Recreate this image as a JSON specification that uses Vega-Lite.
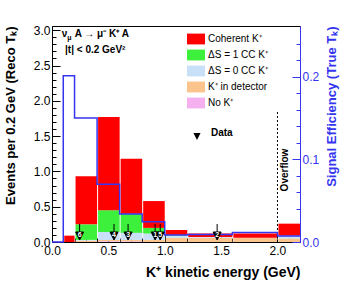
{
  "$schema": "https://vega.github.io/schema/vega-lite/v6.json",
  "width": 248,
  "height": 216,
  "autosize": "none",
  "padding": {"left": 52, "top": 26, "right": 53, "bottom": 43},
  "config": {
    "font": "Liberation Sans",
    "view": {"stroke": "black", "strokeWidth": 1},
    "axis": {"grid": false, "labelFont": "Liberation Sans", "titleFont": "Liberation Sans", "labelOverlap": false, "labelFlush": false, "labelBound": false, "domainWidth": 1}
  },
  "layer": [
    {
      "layer": [
        {
          "data": {"values": [
            {"lo": 0.1, "hi": 0.2, "c": "Coherent K⁺", "k": 5, "v": 0.09},
            {"lo": 0.2, "hi": 0.4, "c": "K⁺ in detector", "k": 2, "v": 0.02},
            {"lo": 0.2, "hi": 0.4, "c": "ΔS = 0 CC K⁺", "k": 3, "v": 0.01},
            {"lo": 0.2, "hi": 0.4, "c": "ΔS = 1 CC K⁺", "k": 4, "v": 0.22},
            {"lo": 0.2, "hi": 0.4, "c": "Coherent K⁺", "k": 5, "v": 0.68},
            {"lo": 0.4, "hi": 0.6, "c": "No K⁺", "k": 1, "v": 0.01},
            {"lo": 0.4, "hi": 0.6, "c": "K⁺ in detector", "k": 2, "v": 0.02},
            {"lo": 0.4, "hi": 0.6, "c": "ΔS = 0 CC K⁺", "k": 3, "v": 0.11},
            {"lo": 0.4, "hi": 0.6, "c": "ΔS = 1 CC K⁺", "k": 4, "v": 0.31},
            {"lo": 0.4, "hi": 0.6, "c": "Coherent K⁺", "k": 5, "v": 1.32},
            {"lo": 0.6, "hi": 0.8, "c": "No K⁺", "k": 1, "v": 0.01},
            {"lo": 0.6, "hi": 0.8, "c": "K⁺ in detector", "k": 2, "v": 0.02},
            {"lo": 0.6, "hi": 0.8, "c": "ΔS = 0 CC K⁺", "k": 3, "v": 0.10},
            {"lo": 0.6, "hi": 0.8, "c": "ΔS = 1 CC K⁺", "k": 4, "v": 0.27},
            {"lo": 0.6, "hi": 0.8, "c": "Coherent K⁺", "k": 5, "v": 0.78},
            {"lo": 0.8, "hi": 1.0, "c": "K⁺ in detector", "k": 2, "v": 0.03},
            {"lo": 0.8, "hi": 1.0, "c": "ΔS = 0 CC K⁺", "k": 3, "v": 0.09},
            {"lo": 0.8, "hi": 1.0, "c": "ΔS = 1 CC K⁺", "k": 4, "v": 0.08},
            {"lo": 0.8, "hi": 1.0, "c": "Coherent K⁺", "k": 5, "v": 0.38},
            {"lo": 1.0, "hi": 1.2, "c": "K⁺ in detector", "k": 2, "v": 0.06},
            {"lo": 1.0, "hi": 1.2, "c": "ΔS = 0 CC K⁺", "k": 3, "v": 0.03},
            {"lo": 1.0, "hi": 1.2, "c": "ΔS = 1 CC K⁺", "k": 4, "v": 0.01},
            {"lo": 1.0, "hi": 1.2, "c": "Coherent K⁺", "k": 5, "v": 0.07},
            {"lo": 1.2, "hi": 1.6, "c": "K⁺ in detector", "k": 2, "v": 0.06},
            {"lo": 1.2, "hi": 1.6, "c": "ΔS = 0 CC K⁺", "k": 3, "v": 0.01},
            {"lo": 1.2, "hi": 1.6, "c": "Coherent K⁺", "k": 5, "v": 0.05},
            {"lo": 1.6, "hi": 2.0, "c": "K⁺ in detector", "k": 2, "v": 0.055},
            {"lo": 1.6, "hi": 2.0, "c": "ΔS = 0 CC K⁺", "k": 3, "v": 0.005},
            {"lo": 1.6, "hi": 2.0, "c": "Coherent K⁺", "k": 5, "v": 0.06},
            {"lo": 2.0, "hi": 2.2, "c": "K⁺ in detector", "k": 2, "v": 0.05},
            {"lo": 2.0, "hi": 2.2, "c": "ΔS = 0 CC K⁺", "k": 3, "v": 0.04},
            {"lo": 2.0, "hi": 2.2, "c": "Coherent K⁺", "k": 5, "v": 0.17}
          ]},
          "mark": {"type": "bar", "strokeWidth": 0},
          "encoding": {
            "x": {"field": "lo", "type": "quantitative", "bin": "binned",
              "scale": {"domain": [0, 2.2], "nice": false, "zero": false},
              "axis": {
                "values": [0, 0.5, 1.0, 1.5, 2.0], "format": ".1f",
                "tickSize": -8, "labelOverlap": false, "labelBound": false, "labelFlush": false,
                "tickColor": "black", "domainColor": "black", "labelColor": "black",
                "labelFontSize": 12, "labelPadding": 11,
                "title": "K⁺ kinetic energy (GeV)", "titleAnchor": "end", "titleFontSize": 14, "titleFontWeight": "bold", "titleColor": "black", "titlePadding": 9
              }
            },
            "x2": {"field": "hi"},
            "y": {"field": "v", "type": "quantitative", "stack": "zero",
              "scale": {"domain": [0, 3.06], "nice": false},
              "axis": {
                "values": [0, 1.0, 2.0, 3.0], "format": ".1f",
                "tickSize": -8, "labelOverlap": false, "labelBound": false, "labelFlush": false,
                "tickColor": "black", "domainColor": "black", "labelColor": "black",
                "labelFontSize": 12, "labelPadding": 10,
                "title": "Events per 0.2 GeV (Reco Tₖ)", "titleAnchor": "end", "titleFontSize": 13, "titleFontWeight": "bold", "titleColor": "black", "titlePadding": 16
              }
            },
            "order": {"field": "k", "type": "quantitative", "sort": "ascending"},
            "color": {"field": "c", "type": "nominal",
              "scale": {"domain": ["Coherent K⁺", "ΔS = 1 CC K⁺", "ΔS = 0 CC K⁺", "K⁺ in detector", "No K⁺"],
                        "range": ["#ff0000", "#3cf03c", "#c8e0f8", "#fbc48c", "#f5b0f0"]},
              "legend": {"orient": "none", "legendX": 135, "legendY": 4, "title": null,
                "symbolType": "M-1,-0.6H1V0.6H-1Z", "symbolSize": 324, "symbolStrokeWidth": 0,
                "labelFontSize": 10, "labelOffset": 3, "rowPadding": 1, "padding": 0, "labelColor": "black"}
            }
          }
        },
        {
          "data": {"values": [{"t": "Overflow"}]},
          "mark": {"type": "rule", "strokeDash": [2, 2], "color": "black", "strokeWidth": 1},
          "encoding": {
            "x": {"datum": 2.0, "type": "quantitative", "scale": {"domain": [0, 2.2], "nice": false, "zero": false}},
            "y": {"datum": 0, "type": "quantitative", "scale": {"domain": [0, 3.06], "nice": false}},
            "y2": {"datum": 1.85}
          }
        },
        {
          "data": {"values": [{"t": "Overflow"}]},
          "mark": {"type": "text", "angle": 270, "fontWeight": "bold", "fontSize": 10, "align": "center", "baseline": "middle", "color": "black"},
          "encoding": {
            "x": {"datum": 2.07, "type": "quantitative", "scale": {"domain": [0, 2.2], "nice": false, "zero": false}},
            "y": {"datum": 1.02, "type": "quantitative", "scale": {"domain": [0, 3.06], "nice": false}},
            "text": {"field": "t"}
          }
        },
        {
          "data": {"values": [{"t": "ν"}]},
          "mark": {"type": "text", "fontWeight": "bold", "fontSize": 10, "align": "left", "baseline": "alphabetic", "color": "black"},
          "encoding": {
            "x": {"datum": 0.086, "type": "quantitative", "scale": {"domain": [0, 2.2], "nice": false, "zero": false}},
            "y": {"datum": 2.9, "type": "quantitative", "scale": {"domain": [0, 3.06], "nice": false}},
            "text": {"field": "t"}
          }
        },
        {
          "data": {"values": [{"t": "μ"}]},
          "mark": {"type": "text", "fontWeight": "bold", "fontSize": 7, "align": "left", "baseline": "alphabetic", "color": "black", "dx": 5.5, "dy": 2.5},
          "encoding": {
            "x": {"datum": 0.086, "type": "quantitative", "scale": {"domain": [0, 2.2], "nice": false, "zero": false}},
            "y": {"datum": 2.9, "type": "quantitative", "scale": {"domain": [0, 3.06], "nice": false}},
            "text": {"field": "t"}
          }
        },
        {
          "data": {"values": [{"t": "A → μ⁻ K⁺ A"}]},
          "mark": {"type": "text", "fontWeight": "bold", "fontSize": 10, "align": "left", "baseline": "alphabetic", "color": "black", "dx": 13},
          "encoding": {
            "x": {"datum": 0.086, "type": "quantitative", "scale": {"domain": [0, 2.2], "nice": false, "zero": false}},
            "y": {"datum": 2.9, "type": "quantitative", "scale": {"domain": [0, 3.06], "nice": false}},
            "text": {"field": "t"}
          }
        },
        {
          "data": {"values": [{"t": "|t| < 0.2 GeV²"}]},
          "mark": {"type": "text", "fontWeight": "bold", "fontSize": 10, "align": "left", "baseline": "alphabetic", "color": "black"},
          "encoding": {
            "x": {"datum": 0.116, "type": "quantitative", "scale": {"domain": [0, 2.2], "nice": false, "zero": false}},
            "y": {"datum": 2.68, "type": "quantitative", "scale": {"domain": [0, 3.06], "nice": false}},
            "text": {"field": "t"}
          }
        }
      ]
    },
    {
      "data": {"values": [
        {"x": 0, "e": 0},
        {"x": 0.1, "e": 0.2013},
        {"x": 0.2, "e": 0.150},
        {"x": 0.4, "e": 0.070},
        {"x": 0.6, "e": 0.034},
        {"x": 0.8, "e": 0.0246},
        {"x": 1.0, "e": 0.0085},
        {"x": 1.2, "e": 0.009},
        {"x": 1.6, "e": 0.0115},
        {"x": 2.0, "e": 0.0073},
        {"x": 2.2, "e": 0.0073}
      ]},
      "mark": {"type": "line", "interpolate": "step-after", "color": "#3535f0", "strokeWidth": 1.5},
      "encoding": {
        "x": {"field": "x", "type": "quantitative", "scale": {"domain": [0, 2.2], "nice": false, "zero": false}, "axis": null},
        "y": {"field": "e", "type": "quantitative", "scale": {"domain": [0, 0.2615], "nice": false},
          "axis": {
            "orient": "right",
            "values": [0, 0.1, 0.2], "format": ".1f",
            "tickSize": -8, "labelOverlap": false, "labelBound": false, "labelFlush": false,
            "tickColor": "#3535f0", "domainColor": "#3535f0", "labelColor": "#3535f0",
            "labelFontSize": 12, "labelPadding": 10,
            "title": "Signal Efficiency (True Tₖ)", "titleAngle": 270, "titleAlign": "right", "titleAnchor": "end", "titleFontSize": 13, "titleFontWeight": "bold", "titleColor": "#3535f0", "titlePadding": 20
          }
        }
      }
    },
    {
      "data": {"values": [
        {"x": 0.245, "n": "6", "kind": "Data"},
        {"x": 0.55, "n": "4", "kind": "Data"},
        {"x": 0.675, "n": "3", "kind": "Data"},
        {"x": 0.915, "n": "1", "kind": "Data"},
        {"x": 0.96, "n": "5", "kind": "Data"},
        {"x": 1.465, "n": "2", "kind": "Data"}
      ]},
      "layer": [
        {
          "mark": {"type": "point", "filled": true, "fill": "black", "stroke": "black", "strokeWidth": 1, "size": 256, "opacity": 1},
          "encoding": {
            "x": {"field": "x", "type": "quantitative", "scale": {"domain": [0, 2.2], "nice": false, "zero": false}, "axis": null},
            "y": {"datum": 0.1415, "type": "quantitative", "scale": {"domain": [0, 3.06], "nice": false}, "axis": null},
            "shape": {"field": "kind", "type": "nominal",
              "scale": {"domain": ["Data"], "range": ["M0,-1L0,0M-0.5,0L0.5,0L0,1Z"]},
              "legend": {"orient": "none", "legendX": 137, "legendY": 99, "title": null,
                "symbolSize": 200, "symbolFillColor": "black", "symbolStrokeColor": "black", "symbolStrokeWidth": 1,
                "labelFontWeight": "bold", "labelFontSize": 10, "labelOffset": 6, "padding": 0, "labelColor": "black"}
            }
          }
        },
        {
          "mark": {"type": "text", "color": "white", "fontSize": 7, "fontWeight": "bold", "align": "center", "baseline": "middle"},
          "encoding": {
            "x": {"field": "x", "type": "quantitative", "scale": {"domain": [0, 2.2], "nice": false, "zero": false}, "axis": null},
            "y": {"datum": 0.095, "type": "quantitative", "scale": {"domain": [0, 3.06], "nice": false}, "axis": null},
            "text": {"field": "n"}
          }
        }
      ]
    },
    {
      "data": {"values": [{"t": "minor"}]},
      "mark": {"type": "rule", "opacity": 0},
      "encoding": {
        "x": {"datum": 0, "type": "quantitative", "scale": {"domain": [0, 2.2], "nice": false, "zero": false},
          "axis": {"orient": "bottom", "values": [0.1,0.2,0.3,0.4,0.6,0.7,0.8,0.9,1.1,1.2,1.3,1.4,1.6,1.7,1.8,1.9,2.1],
            "tickSize": -4, "tickColor": "black", "labels": false, "domain": false, "title": null}},
        "y": {"datum": 0, "type": "quantitative", "scale": {"domain": [0, 3.06], "nice": false},
          "axis": {"orient": "left", "values": [0.1,0.2,0.3,0.4,0.6,0.7,0.8,0.9,1.1,1.2,1.3,1.4,1.6,1.7,1.8,1.9,2.1,2.2,2.3,2.4,2.6,2.7,2.8,2.9],
            "tickSize": -4, "tickColor": "black", "labels": false, "domain": false, "title": null}}
      }
    },
    {
      "data": {"values": [{"t": "half"}]},
      "mark": {"type": "rule", "opacity": 0},
      "encoding": {
        "x": {"datum": 0, "type": "quantitative", "scale": {"domain": [0, 2.2], "nice": false, "zero": false}, "axis": null},
        "y": {"datum": 0, "type": "quantitative", "scale": {"domain": [0, 3.06], "nice": false},
          "axis": {"orient": "left", "values": [0.5, 1.5, 2.5], "format": ".1f",
            "tickSize": -8, "tickColor": "black", "labelColor": "black", "labelFontSize": 12, "labelPadding": 10,
            "labelOverlap": false, "labelBound": false, "labelFlush": false,
            "domain": false, "title": null}}
      }
    },
    {
      "data": {"values": [{"t": "minor"}]},
      "mark": {"type": "rule", "opacity": 0},
      "encoding": {
        "x": {"datum": 0, "type": "quantitative", "scale": {"domain": [0, 2.2], "nice": false, "zero": false}, "axis": null},
        "y": {"datum": 0, "type": "quantitative", "scale": {"domain": [0, 0.2615], "nice": false},
          "axis": {"orient": "right", "values": [0.02,0.04,0.06,0.08,0.12,0.14,0.16,0.18,0.22,0.24],
            "tickSize": -4, "tickColor": "#3535f0", "labels": false, "domain": false, "title": null}}
      }
    }
  ],
  "resolve": {"scale": {"y": "independent"}, "axis": {"y": "independent", "x": "independent"}}
}
